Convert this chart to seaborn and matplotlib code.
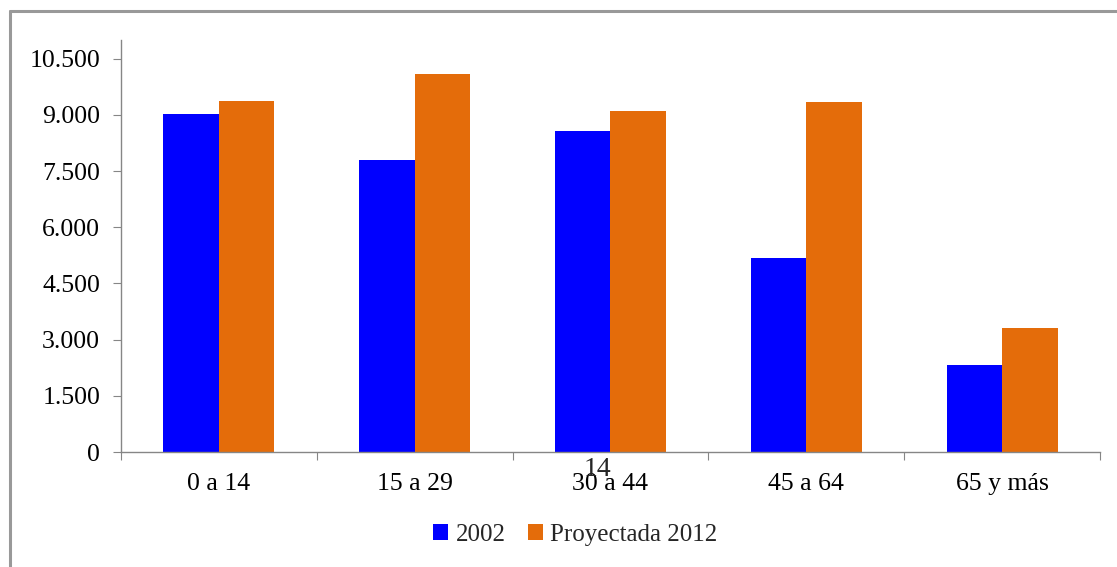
import pandas as pd
import numpy as np
import matplotlib
matplotlib.use("Agg")
import matplotlib.pyplot as plt
import seaborn as sns
from matplotlib.lines import Line2D
from matplotlib.patches import Patch
from matplotlib.ticker import FuncFormatter

# data
grupos = ["0 a 14", "15 a 29", "30 a 44", "45 a 64", "65 y más"]
valores_2002 = [9030, 7800, 8575, 5185, 2325]
valores_2012 = [9380, 10100, 9110, 9350, 3315]
series = ["2002", "Proyectada 2012"]
colores = ["#0000FF", "#E46C0A"]

df = pd.DataFrame({
    "grupo": grupos * 2,
    "serie": [series[0]] * len(grupos) + [series[1]] * len(grupos),
    "valor": valores_2002 + valores_2012,
})

sns.set_style("white")
plt.rcParams["font.family"] = ["Liberation Serif", "DejaVu Serif"]

fig = plt.figure(figsize=(11.17, 5.67), dpi=100)
ax = fig.add_axes([0.1083, 0.2028, 0.8765, 0.7267])

sns.barplot(data=df, x="grupo", y="valor", hue="serie", palette=colores,
            width=0.567, saturation=1, linewidth=0, ax=ax, legend=False)

ax.set_xlim(-0.5, len(grupos) - 0.5)
ax.set_ylim(0, 11000)
ax.set_yticks(np.arange(0, 10501, 1500))
ax.yaxis.set_major_formatter(FuncFormatter(lambda v, p: f"{int(v):,}".replace(",", ".")))
# ticks between groups, labels at group centres
ax.set_xticks(np.arange(-0.5, len(grupos), 1.0))
ax.set_xticklabels([])
ax.set_xticks(np.arange(len(grupos)), minor=True)
ax.set_xticklabels(grupos, minor=True)
ax.set_xlabel("")
ax.set_ylabel("")

gris = "#868686"
for lado in ["top", "right"]:
    ax.spines[lado].set_visible(False)
for lado in ["left", "bottom"]:
    ax.spines[lado].set_color(gris)
    ax.spines[lado].set_linewidth(1.0)

ax.tick_params(axis="y", which="major", direction="out", length=6, color=gris,
               left=True, labelsize=18.5, pad=9, labelcolor="black")
ax.tick_params(axis="x", which="major", direction="out", length=6, color=gris, bottom=True)
ax.tick_params(axis="x", which="minor", length=0, labelsize=18.5, pad=15, labelcolor="black")

# legend below the chart
handles = [Patch(facecolor=c, edgecolor="none") for c in colores]
fig.legend(handles, series, loc="center", bbox_to_anchor=(0.515, 0.056), ncol=2,
           frameon=False, fontsize=18, handlelength=0.6, handleheight=0.6,
           handletextpad=0.3, columnspacing=0.9)

# stray page number in the reference
fig.text(0.535, 0.172, "14", ha="center", va="center", fontsize=20)

# gray frame of the chart area
fig.add_artist(Line2D([10 / 1117, 10 / 1117], [0, 1 - 11 / 567], color="#999999", lw=2.2))
fig.add_artist(Line2D([10 / 1117, 1], [1 - 11 / 567, 1 - 11 / 567], color="#999999", lw=2.2))

fig.savefig("out.png", dpi=100)
